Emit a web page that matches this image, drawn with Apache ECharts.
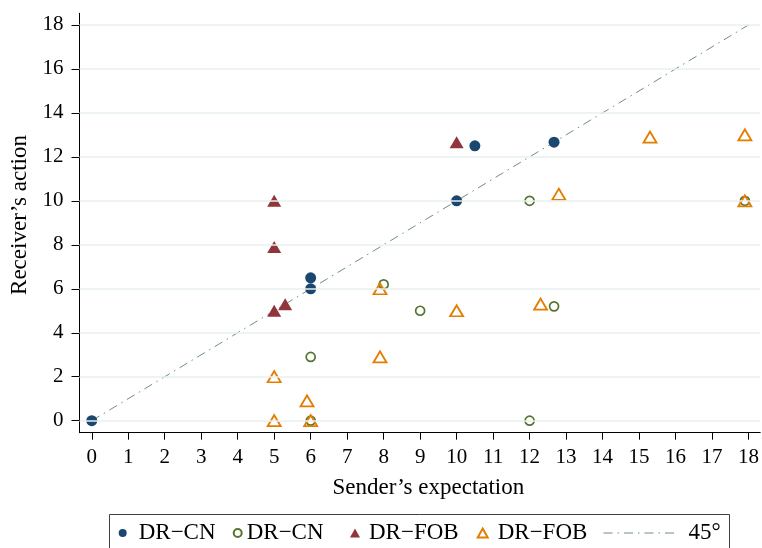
<!DOCTYPE html>
<html>
<head>
<meta charset="utf-8">
<script src="https://cdn.jsdelivr.net/npm/echarts@6/dist/echarts.min.js"></script>
<style>
html,body{margin:0;padding:0;background:#fff;}
#chart{width:762px;height:548px;}
</style>
</head>
<body>
<div id="chart"></div>
<script>
// ---- data ----
var cnFilled = [[0,0],[6,6],[6,6.5],[10,10],[10.5,12.5],[12.67,12.67]];
var cnHollow = [[6,0],[6,2.9],[8,6.2],[9,5],[12,10],[12,0],[12.67,5.2],[17.9,10]];
var fobFilled = [[5,5],[5,7.9],[5,10],[5.3,5.3],[10,12.67]];
var fobHollow = [[5,0],[5,2],[5.9,0.9],[6,0],[7.9,6],[7.9,2.9],[10,5],[12.3,5.3],[12.8,10.3],[15.3,12.9],[17.9,13],[17.9,10]];
var diagonal = [[0,0],[18,18]];
var xTicks = [0,1,2,3,4,5,6,7,8,9,10,11,12,13,14,15,16,17,18];
var yTicks = [0,2,4,6,8,10,12,14,16,18];
var seriesKeys = ['cnF','cnH','fobF','fobH','diag'];
var legendLabels = ['DR\u2212CN','DR\u2212CN','DR\u2212FOB','DR\u2212FOB','45\u00b0'];
var xTitle = 'Sender\u2019s expectation';
var yTitle = 'Receiver\u2019s action';

var FONT = 'Liberation Serif';
var chart = echarts.init(document.getElementById('chart'), null, {renderer:'canvas'});

function fmt(name){ return legendLabels[seriesKeys.indexOf(name)]; }

function mkLegend(key, left, w, h, icon, pad, extra){
  var l = {
    data:[icon ? {name:key, icon:icon} : {name:key}],
    left:left, top:521.5, padding:0,
    itemWidth:w, itemHeight:h,
    selectedMode:false,
    formatter: fmt,
    textStyle:{fontFamily:FONT, fontSize:23, color:'#000', padding:[0,0,0,pad]}
  };
  if (extra) { for (var k in extra) l[k] = extra[k]; }
  return l;
}

var option = {
  backgroundColor:'#fff',
  animation:false,
  grid:{left:77.7, right:1, top:13.3, bottom:115.3, containLabel:false},
  xAxis:{
    type:'value', min:-0.336, max:18.32,
    axisLine:{show:true, onZero:false, lineStyle:{color:'#000', width:1}},
    axisTick:{show:true, length:7, customValues:xTicks, lineStyle:{color:'#000'}},
    axisLabel:{customValues:xTicks, fontFamily:FONT, fontSize:21, color:'#000', margin:14},
    splitLine:{show:false},
    name:xTitle, nameLocation:'middle', nameGap:44,
    nameTextStyle:{fontFamily:FONT, fontSize:23, color:'#000', padding:[0,0,0,17]}
  },
  yAxis:{
    type:'value', min:-0.546, max:18.53,
    axisLine:{show:true, onZero:false, lineStyle:{color:'#000', width:1}},
    axisTick:{show:true, length:8, customValues:yTicks, lineStyle:{color:'#000'}},
    axisLabel:{customValues:yTicks, fontFamily:FONT, fontSize:21, color:'#000', margin:16},
    splitLine:{show:false},
    name:yTitle, nameLocation:'middle', nameGap:48.5,
    nameTextStyle:{fontFamily:FONT, fontSize:23, color:'#000', padding:[0,0,0,16]}
  },
  legend:[
    mkLegend('cnF', 118.7, 8, 8, 'circle', 7),
    mkLegend('cnH', 232.7, 8, 8, 'circle', 0),
    mkLegend('fobF', 350, 10, 9, 'triangle', 4),
    mkLegend('fobH', 476.7, 10, 9, 'triangle', 5),
    mkLegend('diag', 603, 74, 14, null, 6, {
      itemStyle:{color:'rgba(0,0,0,0)', borderColor:'rgba(0,0,0,0)', borderWidth:0},
      lineStyle:{color:'#6e8e84', width:1, type:[9,5,1.5,5]}
    })
  ],
  graphic:[{
    type:'rect', silent:true, z:100,
    shape:{x:109.5, y:514.5, width:620, height:60},
    style:{fill:'none', stroke:'#404040', lineWidth:1}
  }],
  series:[
    {
      name:'grid', type:'line', data:[], silent:true, z:0,
      markLine:{silent:true, symbol:'none', label:{show:false},
        lineStyle:{color:'#e8eff1', width:1.6, type:'solid'},
        emphasis:{disabled:true},
        data: yTicks.map(function(v){return {yAxis:v};})}
    },
    {
      name:'diag', type:'line', data:diagonal, symbol:'none', z:1, silent:true,
      lineStyle:{color:'#6e8e84', width:1, type:[9,5,1.5,5]},
      itemStyle:{color:'#6e8e84'}
    },
    {
      name:'cnF', type:'scatter', data:cnFilled, symbol:'circle', symbolSize:11, z:3,
      itemStyle:{color:'#1a476f', opacity:1}
    },
    {
      name:'cnH', type:'scatter', data:cnHollow, symbol:'circle', symbolSize:9, z:3,
      itemStyle:{color:'rgba(0,0,0,0)', borderColor:'#55752f', borderWidth:1.7, opacity:1}
    },
    {
      name:'fobF', type:'scatter', data:fobFilled, symbol:'triangle', symbolSize:[14,12], z:3,
      itemStyle:{color:'#90353b', opacity:1}
    },
    {
      name:'fobH', type:'scatter', data:fobHollow, symbol:'triangle', symbolSize:[13,11], z:3,
      itemStyle:{color:'rgba(0,0,0,0)', borderColor:'#e37e00', borderWidth:1.8, opacity:1}
    }
  ]
};
chart.setOption(option);
</script>
</body>
</html>
